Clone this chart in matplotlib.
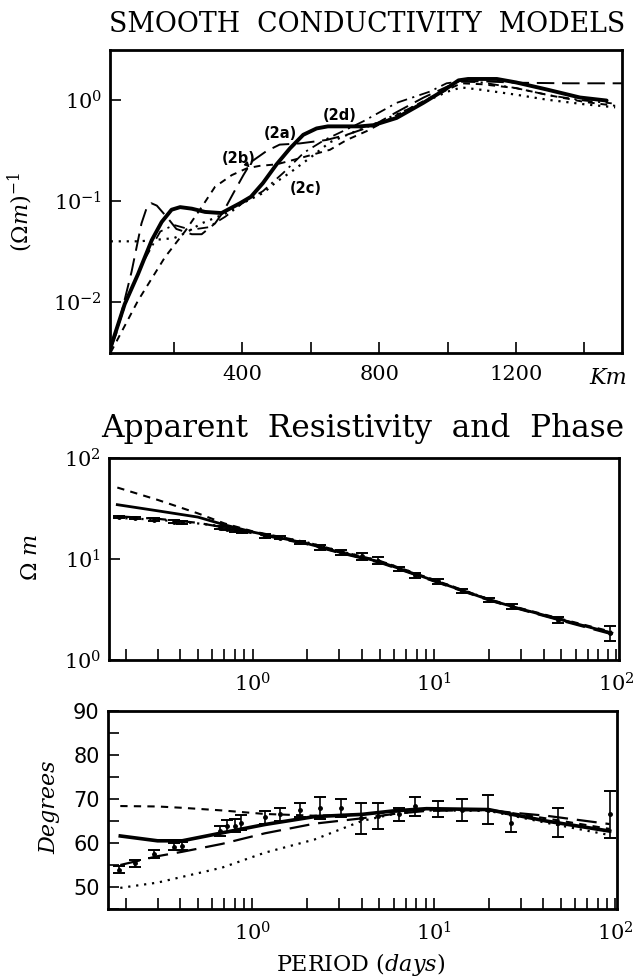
import matplotlib
matplotlib.use("Agg")
import matplotlib.pyplot as plt
from matplotlib.ticker import FixedLocator, NullFormatter, NullLocator, LogLocator, MultipleLocator

# ---- top panel: conductivity models (depth km, S/m) ----
depth_solid = [15, 56, 95, 135, 164, 193, 218, 252, 291, 339, 393, 425, 460, 500, 539, 578, 617, 650,
               744, 783, 851, 929, 988, 1032, 1060, 1144, 1200, 1290, 1387, 1465]
sigma_solid = [0.0036, 0.0096, 0.019, 0.041, 0.062, 0.082, 0.087, 0.084, 0.078, 0.076, 0.095, 0.11,
               0.15, 0.23, 0.33, 0.45, 0.52, 0.545, 0.545, 0.56, 0.66, 0.93, 1.23, 1.55, 1.6, 1.6,
               1.48, 1.26, 1.05, 0.98]

depth_a = [15, 32, 76, 105, 120, 134, 150, 183, 207, 252, 281, 320, 344, 374, 403, 427, 470, 509,
           568, 646, 705, 780, 850, 930, 1000, 1040, 1100, 1200, 1350, 1510]
sigma_a = [0.0035, 0.005, 0.020, 0.06, 0.085, 0.095, 0.09, 0.067, 0.053, 0.047, 0.047, 0.06, 0.078,
           0.12, 0.18, 0.245, 0.31, 0.36, 0.37, 0.40, 0.45, 0.55, 0.75, 1.05, 1.35, 1.5, 1.52, 1.47,
           1.45, 1.45]

depth_b = [15, 95, 174, 232, 281, 320, 369, 413, 450, 500, 560, 656, 705, 764, 850, 950, 1040, 1100,
           1200, 1300, 1400, 1490]
sigma_b = [0.0032, 0.0104, 0.028, 0.05, 0.087, 0.138, 0.18, 0.21, 0.222, 0.23, 0.26, 0.32, 0.4, 0.49,
           0.7, 1.05, 1.45, 1.42, 1.3, 1.1, 0.95, 0.87]

depth_c = [15, 100, 200, 232, 280, 350, 400, 461, 500, 539, 600, 656, 720, 800, 900, 1000, 1040, 1100,
           1200, 1290, 1400, 1490]
sigma_c = [0.04, 0.04, 0.043, 0.048, 0.06, 0.075, 0.095, 0.12, 0.155, 0.19, 0.27, 0.38, 0.47, 0.6,
           0.85, 1.2, 1.32, 1.25, 1.12, 1.0, 0.9, 0.84]

depth_d = [15, 60, 110, 160, 200, 250, 300, 350, 400, 460, 520, 580, 640, 700, 753, 851, 948, 997,
           1040, 1100, 1200, 1300, 1400, 1480]
sigma_d = [0.0035, 0.01, 0.025, 0.05, 0.058, 0.052, 0.055, 0.07, 0.095, 0.125, 0.19, 0.30, 0.40,
           0.50, 0.61, 0.93, 1.2, 1.45, 1.52, 1.48, 1.3, 1.1, 0.98, 0.92]

model_labels = ["(2a)", "(2b)", "(2c)", "(2d)"]
label_depth = [510, 388, 584, 685]
label_sigma = [0.464, 0.263, 0.133, 0.69]

# ---- observed response ----
period = [0.184, 0.225, 0.288, 0.37, 0.41, 0.66, 0.72, 0.80, 0.87, 1.17, 1.42, 1.83, 2.35, 3.07,
          3.98, 4.9, 6.4, 7.85, 10.5, 14.2, 19.9, 26.7, 48.3, 93]
rho = [26, 25.5, 24.5, 23.5, 23, 20.5, 20, 19.2, 18.8, 17, 16.3, 14.6, 13, 11.6,
       10.6, 9.6, 8.0, 6.9, 6.0, 4.8, 3.95, 3.4, 2.5, 1.85]
rho_err = [0.03, 0.03, 0.03, 0.03, 0.03, 0.04, 0.04, 0.04, 0.04, 0.04, 0.04, 0.04, 0.05, 0.05,
           0.07, 0.08, 0.04, 0.06, 0.05, 0.05, 0.04, 0.06, 0.07, 0.17]
phase = [53.9, 55.4, 57.4, 59.2, 59.4, 62.7, 63.9, 63.9, 64.6, 65.8, 66.5, 67.6, 68.0, 68.0,
         65.6, 66.2, 66.5, 68.3, 67.8, 67.6, 67.6, 64.5, 64.6, 66.5]
phase_err = [0.8, 0.8, 0.9, 0.9, 0.9, 1.2, 1.3, 1.5, 1.7, 1.4, 1.5, 1.6, 2.5, 2.0,
             3.5, 3.0, 1.5, 2.2, 1.8, 2.5, 3.2, 2.0, 3.3, 5.3]

# ---- model responses ----
model_period = [0.18, 0.3, 0.5, 0.7, 1, 2, 3, 5, 10, 20, 30, 50, 95]
rho_solid = [34.5, 30, 26, 21.8, 18.5, 14.2, 11.7, 9.4, 6.1, 3.95, 3.2, 2.5, 1.85]
rho_long = [26.5, 25, 22.8, 20.5, 18, 14, 11.5, 9.2, 6.0, 3.9, 3.15, 2.45, 1.8]
rho_short = [51, 38.5, 28.3, 22.5, 18.8, 14.6, 12, 9.6, 6.2, 4.0, 3.25, 2.55, 1.9]
rho_dot = [25.5, 24.5, 22.5, 21, 18.5, 14.6, 12.0, 9.6, 6.2, 4.0, 3.2, 2.5, 1.85]

phase_period = [0.187, 0.3, 0.41, 0.68, 1.17, 2.2, 4.0, 6.0, 9.1, 20, 27, 41.5, 93]
phase_solid = [61.6, 60.5, 60.5, 62.3, 64.2, 66.0, 66.5, 67.3, 67.8, 67.6, 66.5, 65.0, 62.7]
phase_long = [55.0, 57.0, 58.0, 59.8, 62.2, 64.4, 65.6, 66.6, 67.3, 67.5, 66.9, 66.2, 64.3]
phase_short = [68.4, 68.3, 68.0, 67.4, 66.6, 66.2, 66.5, 67.1, 67.6, 67.4, 66.8, 65.6, 63.2]
phase_dot = [49.8, 51.0, 52.3, 54.4, 57.8, 60.8, 65.0, 66.6, 67.4, 67.3, 66.2, 64.6, 61.8]

plt.rcParams['mathtext.fontset'] = 'dejavuserif'
plt.rcParams['font.family'] = 'DejaVu Serif'

W, H = 644, 977
fig = plt.figure(figsize=(W / 100, H / 100), dpi=100)


def box(l, t, r, b):
    return [l / W, 1 - b / H, (r - l) / W, (b - t) / H]


ax1 = fig.add_axes(box(110, 50, 622, 353))
ax2 = fig.add_axes(box(109, 458, 619, 660))
ax3 = fig.add_axes(box(108, 711, 617, 909))

LONG = (0, (9, 4))
SHORT = (0, (3.5, 3))
DOT = (0, (1, 2.6))
DASHDOT = (0, (6, 3, 1.2, 3))

for ax in (ax1, ax2, ax3):
    for s in ax.spines.values():
        s.set_linewidth(2.0)
    ax.tick_params(which='both', direction='in', top=False, right=False, width=1.2, length=8,
                   labelsize=15)

# top panel
ax1.plot(depth_d, sigma_d, color='k', lw=1.3, ls=DASHDOT)
ax1.plot(depth_c, sigma_c, color='k', lw=1.6, ls=DOT)
ax1.plot(depth_b, sigma_b, color='k', lw=1.4, ls=SHORT)
ax1.plot(depth_a, sigma_a, color='k', lw=1.4, ls=LONG)
ax1.plot(depth_solid, sigma_solid, color='k', lw=2.8, solid_capstyle='round')
ax1.set_yscale('log')
ax1.set_xlim(13, 1510)
ax1.set_ylim(10 ** -2.5, 10 ** 0.49)
ax1.xaxis.set_major_locator(FixedLocator([400, 800, 1200]))
ax1.xaxis.set_minor_locator(FixedLocator([200, 600, 1000, 1400]))
ax1.yaxis.set_major_locator(FixedLocator([1e-2, 1e-1, 1]))
ax1.yaxis.set_minor_locator(NullLocator())
ax1.set_yticklabels([r'$10^{-2}$', r'$10^{-1}$', r'$10^{0}$'])
ax1.tick_params(axis='x', pad=9)
ax1.tick_params(axis='y', pad=6)
for lab, dx, sy in zip(model_labels, label_depth, label_sigma):
    ax1.text(dx, sy, lab, fontsize=10.5, fontweight='bold', family='DejaVu Sans',
             ha='center', va='center')
ax1.annotate('', xy=(427, 0.205), xytext=(405, 0.245),
             arrowprops=dict(arrowstyle='-|>', color='k', lw=1.0, mutation_scale=7))
fig.text(608 / W, 1 - 378 / H, 'Km', fontsize=16, style='italic', ha='center', va='center')

# middle panel
ax2.plot(model_period, rho_dot, color='k', lw=1.6, ls=DOT)
ax2.plot(model_period, rho_short, color='k', lw=1.5, ls=SHORT)
ax2.plot(model_period, rho_long, color='k', lw=1.6, ls=LONG)
ax2.plot(model_period, rho_solid, color='k', lw=2.0)
rho_lo = [r * e for r, e in zip(rho, rho_err)]
ax2.errorbar(period, rho, yerr=rho_lo, fmt='o', ms=2.5, color='k', ecolor='k', elinewidth=1.2,
             capsize=4.5, capthick=1.4)
ax2.set_xscale('log')
ax2.set_yscale('log')
ax2.set_xlim(0.162, 104)
ax2.set_ylim(1, 100)
ax2.xaxis.set_major_locator(FixedLocator([1, 10, 100]))
ax2.xaxis.set_minor_locator(LogLocator(base=10, subs=range(2, 10), numticks=20))
ax2.xaxis.set_minor_formatter(NullFormatter())
ax2.set_xticklabels([r'$10^{0}$', r'$10^{1}$', r'$10^{2}$'])
ax2.yaxis.set_major_locator(FixedLocator([1, 10, 100]))
ax2.yaxis.set_minor_locator(NullLocator())
ax2.set_yticklabels([r'$10^{0}$', r'$10^{1}$', r'$10^{2}$'])
ax2.tick_params(axis='x', pad=9)
ax2.tick_params(axis='y', pad=6)

# bottom panel
ax3.plot(phase_period, phase_dot, color='k', lw=1.6, ls=DOT)
ax3.plot(phase_period, phase_short, color='k', lw=1.5, ls=SHORT)
ax3.plot(phase_period, phase_long, color='k', lw=1.6, ls=LONG)
ax3.plot(phase_period, phase_solid, color='k', lw=2.6)
ax3.errorbar(period, phase, yerr=phase_err, fmt='o', ms=2.5, color='k', ecolor='k',
             elinewidth=1.2, capsize=4.5, capthick=1.4)
ax3.set_xscale('log')
ax3.set_xlim(0.16, 102)
ax3.set_ylim(45, 90)
ax3.xaxis.set_major_locator(FixedLocator([1, 10, 100]))
ax3.xaxis.set_minor_locator(LogLocator(base=10, subs=range(2, 10), numticks=20))
ax3.xaxis.set_minor_formatter(NullFormatter())
ax3.set_xticklabels([r'$10^{0}$', r'$10^{1}$', r'$10^{2}$'])
ax3.yaxis.set_major_locator(MultipleLocator(10))
ax3.yaxis.set_minor_locator(MultipleLocator(5))
ax3.set_yticks([50, 60, 70, 80, 90])
ax3.set_yticklabels(['50', '60', '70', '80', '90'], family='DejaVu Sans', fontsize=15)
ax3.tick_params(axis='x', pad=9)
ax3.tick_params(axis='y', pad=6)

# titles and axis labels
fig.text(367 / W, 1 - 31.7 / H, 'SMOOTH  CONDUCTIVITY  MODELS', fontsize=19.3,
         ha='center', va='baseline')
fig.text(363 / W, 1 - 436.7 / H, 'Apparent  Resistivity  and  Phase', fontsize=22.5,
         ha='center', va='baseline')
fig.text(20 / W, 1 - 212 / H, r'$(\Omega m)^{-1}$', fontsize=16, rotation=90,
         ha='center', va='center')
fig.text(31 / W, 1 - 557 / H, r'$\Omega\ m$', fontsize=16, rotation=90,
         ha='center', va='center')
fig.text(49 / W, 1 - 807 / H, 'Degrees', fontsize=16, style='italic', rotation=90,
         ha='center', va='center')
fig.text(361 / W, 1 - 964 / H, r'PERIOD $(days)$', fontsize=16, ha='center', va='center')

fig.savefig('out.png', dpi=100)
